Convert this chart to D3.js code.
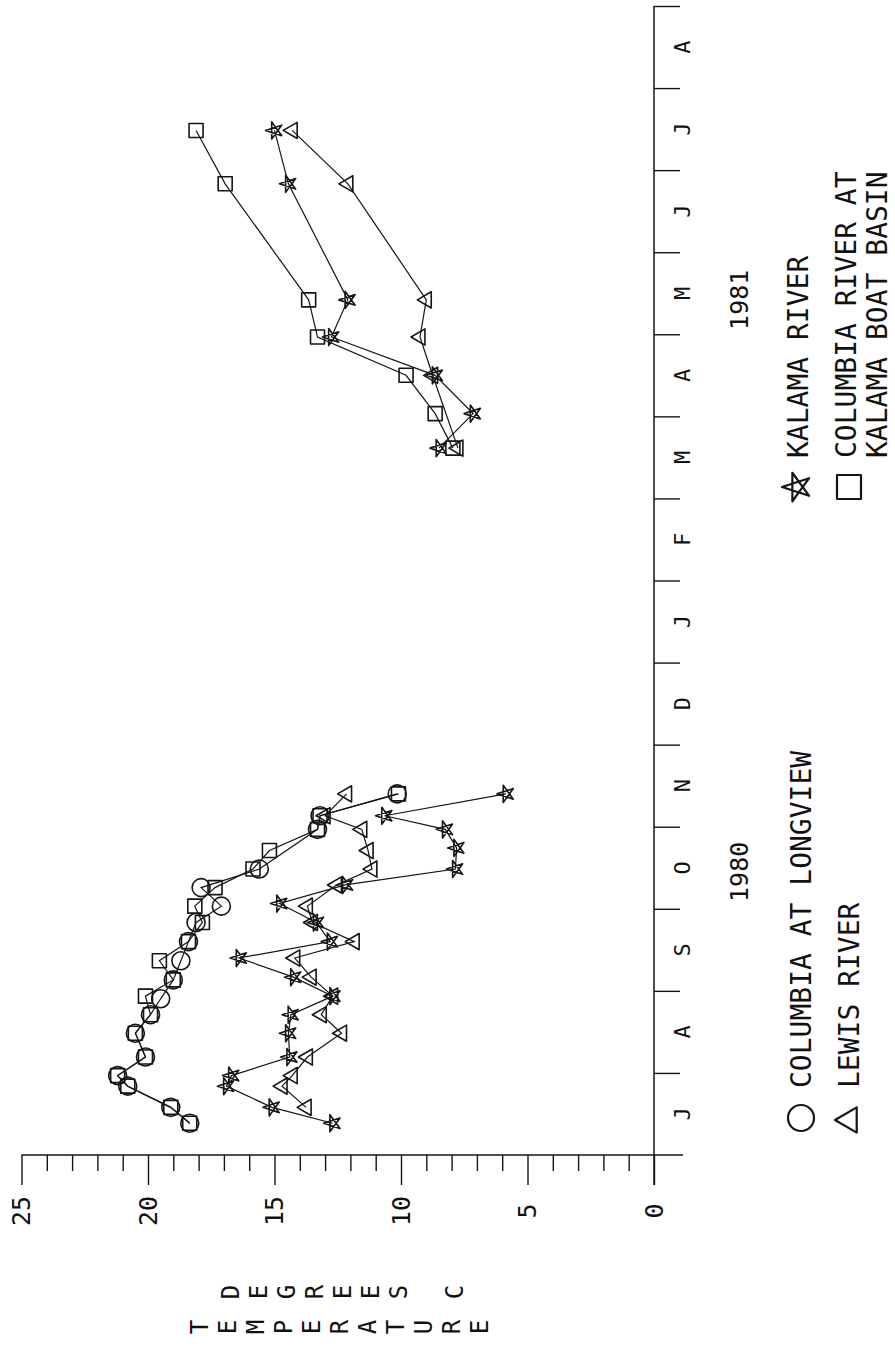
<!DOCTYPE html>
<html>
<head>
<meta charset="utf-8">
<script src="https://cdn.jsdelivr.net/npm/d3@7"></script>
<style>
  html, body { margin: 0; padding: 0; background: #fff; }
  svg { display: block; }
  text { font-family: "DejaVu Sans Mono", "Liberation Mono", monospace; fill: #111; }
</style>
</head>
<body>
<svg id="chart" width="895" height="1351"></svg>
<script>
// Water temperature, July 1980 - August 1981 (chart is printed rotated a quarter turn)

const monthLabels = ["J","A","S","O","N","D","J","F","M","A","M","J","J","A"];
const tempTicks = d3.range(0, 26);
const tempLabels = [0, 5, 10, 15, 20, 25];
const years = [{label: "1980", month: 3.45}, {label: "1981", month: 10.42}];

// Columbia at Longview
const longviewDates = ["1980-07-13","1980-07-19","1980-07-27","1980-07-31","1980-08-07","1980-08-16",
  "1980-08-23","1980-08-29","1980-09-05","1980-09-12","1980-09-19","1980-09-26","1980-10-02",
  "1980-10-09","1980-10-16","1980-10-31","1980-11-05","1980-11-13"];
const longviewTemps = [18.35,19.1,20.8,21.2,20.1,20.5,19.9,19.5,19.0,18.7,18.4,18.1,17.1,
  17.9,15.6,13.3,13.2,10.15];

// Lewis River
const lewisDates = ["1980-07-19","1980-07-27","1980-07-31","1980-08-07","1980-08-16","1980-08-23",
  "1980-08-30","1980-09-06","1980-09-13","1980-09-19","1980-09-26","1980-10-02","1980-10-10",
  "1980-10-16","1980-10-23","1980-10-31","1980-11-05","1980-11-13"];
const lewisTemps = [13.75,14.7,14.3,13.7,12.35,13.15,12.7,13.55,14.2,11.85,13.5,13.7,12.55,
  11.15,11.3,11.55,13.0,12.15];
const lewisDates81 = ["1981-03-20","1981-04-16","1981-04-30","1981-05-14","1981-06-26","1981-07-16"];
const lewisTemps81 = [7.75,8.75,9.25,9.0,12.1,14.3];

// Kalama River
const kalamaDates = ["1980-07-13","1980-07-19","1980-07-27","1980-07-31","1980-08-07","1980-08-16",
  "1980-08-23","1980-08-30","1980-09-06","1980-09-13","1980-09-19","1980-09-26","1980-10-03",
  "1980-10-10","1980-10-16","1980-10-24","1980-10-31","1980-11-05","1980-11-13"];
const kalamaTemps = [12.7,15.1,16.9,16.7,14.4,14.45,14.35,12.7,14.25,16.4,12.8,13.35,14.8,
  12.2,7.85,7.8,8.25,10.65,5.85];
const kalamaDates81 = ["1981-03-20","1981-04-02","1981-04-16","1981-04-30","1981-05-14","1981-06-26","1981-07-16"];
const kalamaTemps81 = [8.5,7.15,8.65,12.75,12.1,14.45,15.0];

// Columbia River at Kalama Boat Basin
const basinDates = ["1980-07-13","1980-07-19","1980-07-27","1980-07-31","1980-08-07","1980-08-16",
  "1980-08-23","1980-08-30","1980-09-05","1980-09-12","1980-09-19","1980-09-26","1980-10-02",
  "1980-10-09","1980-10-16","1980-10-23","1980-10-31","1980-11-05","1980-11-13"];
const basinTemps = [18.35,19.1,20.8,21.2,20.1,20.5,19.9,20.1,19.0,19.55,18.4,17.85,18.15,
  17.35,15.85,15.2,13.3,13.2,10.1];
const basinDates81 = ["1981-03-20","1981-04-02","1981-04-16","1981-04-30","1981-05-14","1981-06-26","1981-07-16"];
const basinTemps81 = [7.95,8.65,9.8,13.3,13.65,16.95,18.1];

// fractional months elapsed since 1 July 1980
const parse = d3.timeParse("%Y-%m-%d");
function monthIndex(s) {
  const d = parse(s);
  const start = d3.timeMonth.floor(d);
  const days = d3.timeDay.count(start, d3.timeMonth.offset(start, 1));
  return (d.getFullYear() - 1980) * 12 + d.getMonth() - 6 + (d.getDate() - 1) / days;
}
const zip = (dates, temps) => dates.map((d, i) => ({m: monthIndex(d), t: temps[i]}));

const series = [
  {name: "COLUMBIA AT LONGVIEW", shape: "circle", parts: [zip(longviewDates, longviewTemps)]},
  {name: "LEWIS RIVER", shape: "triangle", parts: [zip(lewisDates, lewisTemps), zip(lewisDates81, lewisTemps81)]},
  {name: "KALAMA RIVER", shape: "star", parts: [zip(kalamaDates, kalamaTemps), zip(kalamaDates81, kalamaTemps81)]},
  {name: "COLUMBIA RIVER AT|KALAMA BOAT BASIN", shape: "square", parts: [zip(basinDates, basinTemps), zip(basinDates81, basinTemps81)]}
];

const svg = d3.select("#chart");
svg.append("rect").attr("width", 895).attr("height", 1351).attr("fill", "#fff");

// temperature runs across the page, time runs up the page
const x = d3.scaleLinear().domain([0, 25]).range([654, 21.5]);
const y = d3.scaleLinear().domain([0, 14]).range([1155, 6]);

const ink = "#151515";

// ---- temperature axis ----
const xAxis = svg.append("g").attr("transform", "translate(0,1155)")
  .call(d3.axisBottom(x).tickValues(tempTicks).tickSize(16).tickFormat(""));
xAxis.select(".domain").remove();
xAxis.selectAll(".tick line")
  .attr("stroke", ink).attr("stroke-width", 1.4)
  .attr("y2", d => d % 5 === 0 ? 30 : 16);
svg.append("line").attr("x1", x(25)).attr("x2", 683).attr("y1", 1155).attr("y2", 1155)
  .attr("stroke", ink).attr("stroke-width", 1.5);

svg.append("g").selectAll("text").data(tempLabels).join("text")
  .attr("transform", d => `translate(${x(d)},1211) rotate(-90)`)
  .attr("text-anchor", "middle").attr("dominant-baseline", "central")
  .attr("font-size", 25)
  .text(d => d);

// axis title, one rotated glyph per letter
function spacedTitle(str, cx, cy, gap) {
  const chars = str.split("");
  svg.append("g").selectAll("text").data(chars).join("text")
    .attr("transform", (c, i) => `translate(${cx + (i - (chars.length - 1) / 2) * gap},${cy}) rotate(-90)`)
    .attr("text-anchor", "middle").attr("dominant-baseline", "central")
    .attr("font-size", 24)
    .text(c => c);
}
spacedTitle("DEGREES C", 343, 1292, 28);
spacedTitle("TEMPERATURE", 340, 1327, 28);

// ---- time axis ----
const yAxis = svg.append("g").attr("transform", "translate(654,0)")
  .call(d3.axisRight(y).tickValues(d3.range(1, 15)).tickSize(26).tickFormat(""));
yAxis.select(".domain").remove();
yAxis.selectAll(".tick line").attr("stroke", ink).attr("stroke-width", 1.4);
svg.append("line").attr("x1", 654).attr("x2", 654).attr("y1", y(14)).attr("y2", 1185)
  .attr("stroke", ink).attr("stroke-width", 1.5);

svg.append("g").selectAll("text").data(monthLabels).join("text")
  .attr("transform", (d, i) => `translate(682,${y(i + 0.5)}) rotate(-90)`)
  .attr("text-anchor", "middle").attr("dominant-baseline", "central")
  .attr("font-size", 22)
  .text(d => d);

svg.append("g").selectAll("text").data(years).join("text")
  .attr("transform", d => `translate(739,${y(d.month)}) rotate(-90)`)
  .attr("text-anchor", "middle").attr("dominant-baseline", "central")
  .attr("font-size", 25)
  .text(d => d.label);

// ---- markers ----
function markerPath(shape, r) {
  const p = d3.path();
  if (shape === "circle") {
    p.moveTo(r, 0); p.arc(0, 0, r, 0, 2 * Math.PI);
  } else if (shape === "square") {
    p.rect(-r, -r, 2 * r, 2 * r);
  } else if (shape === "triangle") {
    // apex pointing to the left (rotated page)
    p.moveTo(-r, 0); p.lineTo(r * 0.55, -r * 0.9); p.lineTo(r * 0.55, r * 0.9); p.closePath();
  } else if (shape === "star") {
    const pts = d3.range(5).map(k => {
      const a = Math.PI + k * 2 * Math.PI / 5;
      return [r * Math.cos(a), r * Math.sin(a)];
    });
    const order = [0, 2, 4, 1, 3];
    order.forEach((k, i) => i ? p.lineTo(pts[k][0], pts[k][1]) : p.moveTo(pts[k][0], pts[k][1]));
    p.closePath();
  }
  return p.toString();
}
const markerSize = {circle: 9, square: 7, triangle: 9, star: 9};

const line = d3.line().x(d => x(d.t)).y(d => y(d.m));
const plot = svg.append("g");
series.forEach(s => {
  s.parts.forEach(part => {
    plot.append("path").datum(part).attr("d", line)
      .attr("fill", "none").attr("stroke", ink).attr("stroke-width", 1.2);
  });
});
series.forEach(s => {
  s.parts.forEach(part => {
    plot.append("g").selectAll("path").data(part).join("path")
      .attr("transform", d => `translate(${x(d.t)},${y(d.m)})`)
      .attr("d", markerPath(s.shape, markerSize[s.shape]))
      .attr("fill", "none").attr("stroke", ink).attr("stroke-width", 1.6)
      .attr("stroke-linejoin", "round");
  });
});

// ---- legend ----
const legendItems = [
  {shape: "circle", r: 13, mx: 801, my: 1118, lines: [{text: "COLUMBIA AT LONGVIEW", bx: 811}], ty: 1088},
  {shape: "triangle", r: 14, mx: 849, my: 1120, lines: [{text: "LEWIS RIVER", bx: 859}], ty: 1088},
  {shape: "star", r: 15, mx: 797, my: 487, lines: [{text: "KALAMA RIVER", bx: 808}], ty: 458},
  {shape: "square", r: 12, mx: 849, my: 487, lines: [{text: "COLUMBIA RIVER AT", bx: 856}, {text: "KALAMA BOAT BASIN", bx: 887}], ty: 458}
];
const legend = svg.append("g");
legendItems.forEach(item => {
  legend.append("path")
    .attr("transform", `translate(${item.mx},${item.my})`)
    .attr("d", markerPath(item.shape, item.r))
    .attr("fill", "none").attr("stroke", ink).attr("stroke-width", 2.2)
    .attr("stroke-linejoin", "round");
  item.lines.forEach(l => {
    legend.append("text")
      .attr("transform", `translate(${l.bx},${item.ty}) rotate(-90)`)
      .attr("font-size", 28)
      .text(l.text);
  });
});
</script>
</body>
</html>
